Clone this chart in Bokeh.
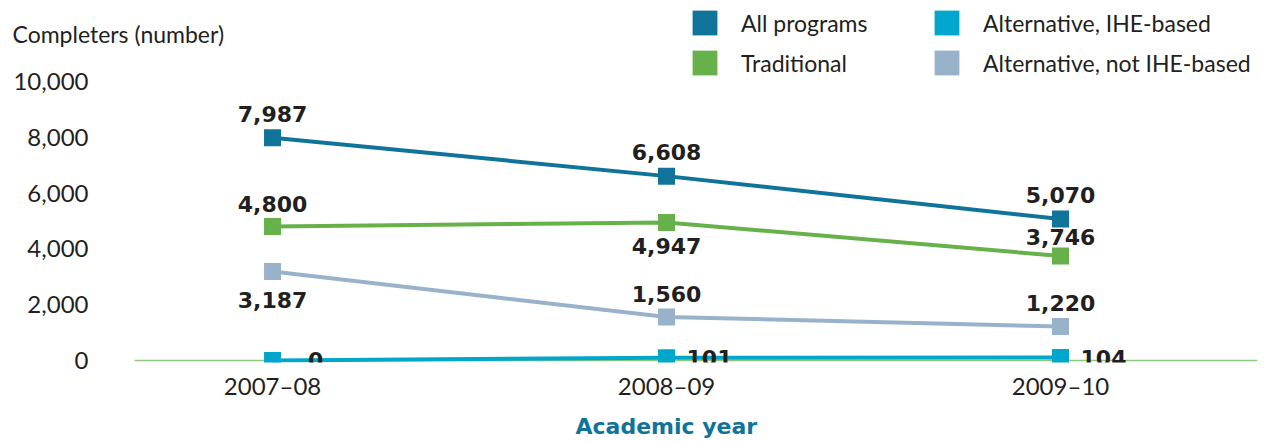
from bokeh.plotting import figure
from bokeh.models import (Range1d, FixedTicker, NumeralTickFormatter, Label, Title,
                          Legend, LegendItem, ColumnDataSource)
from bokeh.core.properties import value
from bokeh.embed import file_html
from bokeh.resources import INLINE

# ---- data ----
years = ["2007–08", "2008–09", "2009–10"]
all_programs = [7987, 6608, 5070]
traditional = [4800, 4947, 3746]
alt_ihe = [0, 101, 104]
alt_not_ihe = [3187, 1560, 1220]
y_ticks = [0, 2000, 4000, 6000, 8000, 10000]

# ---- style ----
FONT = "Lato"
BOLD_FONT = "DejaVu Sans"
TXT = "#231f20"
C_ALL = "#0f739a"
C_TRAD = "#67b14b"
C_IHE = "#00a6cc"
C_NOT = "#98b2ca"
C_BASE = "#8ec67c"

# view extents (data units)
X_START, X_END = -0.66, 2.5
Y_START, Y_END = -72, 12903
BASE_X0 = -0.35          # where the zero baseline begins

# label placement (screen px offsets): negative = above
off_all = [-24, -24, -24]
off_trad = [-23, 24, -19]
off_not = [28, -23, -23]

xs = list(range(len(years)))

p = figure(frame_width=1245, frame_height=362, output_backend="svg", toolbar_location=None,
           x_range=Range1d(X_START, X_END), y_range=Range1d(Y_START, Y_END),
           min_border_left=12, min_border_right=8, min_border_top=0, min_border_bottom=0)
p.outline_line_color = None
p.grid.visible = False
p.background_fill_color = "white"
p.border_fill_color = "white"

# axes
p.xaxis.ticker = FixedTicker(ticks=xs)
p.xaxis.major_label_overrides = {i: y for i, y in enumerate(years)}
p.xaxis.axis_line_color = None
p.xaxis.major_tick_line_color = None
p.xaxis.minor_tick_line_color = None
p.xaxis.major_label_standoff = 2
p.xaxis.major_label_text_font = FONT
p.xaxis.major_label_text_font_size = "24px"
p.xaxis.major_label_text_color = TXT

p.yaxis.ticker = FixedTicker(ticks=y_ticks)
p.yaxis.formatter = NumeralTickFormatter(format="0,0")
p.yaxis.axis_line_color = None
p.yaxis.major_tick_line_color = None
p.yaxis.minor_tick_line_color = None
p.yaxis.major_label_standoff = -82
p.yaxis.major_label_text_font = FONT
p.yaxis.major_label_text_font_size = "24px"
p.yaxis.major_label_text_color = TXT

p.add_layout(Title(text="Academic year", align="left", offset=563, standoff=18,
                   text_font=BOLD_FONT, text_font_size="22px", text_font_style="bold",
                   text_color=C_ALL), "below")

# zero baseline
p.segment(x0=[BASE_X0], x1=[X_END], y0=[0], y1=[0], line_color=C_BASE, line_width=1.5)

series = [
    ("All programs", all_programs, C_ALL),
    ("Traditional", traditional, C_TRAD),
    ("Alternative, not IHE-based", alt_not_ihe, C_NOT),
    ("Alternative, IHE-based", alt_ihe, C_IHE),
]
marks = {}
for name, vals, col in series:
    src = ColumnDataSource(dict(x=xs, y=vals))
    p.line("x", "y", source=src, line_color=col, line_width=4)
for name, vals, col in series:
    src = ColumnDataSource(dict(x=xs, y=vals))
    marks[name] = p.rect("x", "y", width=17, height=17, width_units="screen",
                         height_units="screen", source=src, fill_color=col, line_color=None)

def labels(vals, offs):
    src = ColumnDataSource(dict(x=xs, y=vals, t=[f"{v:,}" for v in vals], o=offs))
    p.text("x", "y", text="t", y_offset="o", source=src, text_font=value(BOLD_FONT),
           text_font_style="bold", text_font_size="22px", text_color=TXT,
           text_baseline="middle", text_align="center")

labels(all_programs, off_all)
labels(traditional, off_trad)
labels(alt_not_ihe, off_not)
src_ihe = ColumnDataSource(dict(x=xs, y=alt_ihe, t=[f"{v:,}" for v in alt_ihe]))
p.text("x", "y", text="t", x_offset=43, source=src_ihe, text_font=value(BOLD_FONT),
       text_font_style="bold", text_font_size="22px", text_color=TXT,
       text_baseline="middle", text_align="center")

# y axis title (horizontal, top-left)
p.add_layout(Label(x=X_START, y=11720, text="Completers (number)", text_font=FONT,
                   text_font_size="23px", text_color=TXT, text_baseline="middle",
                   text_align="left"))

def make_legend(items, loc):
    lg = Legend(items=[LegendItem(label=n, renderers=[marks[n]]) for n in items],
                location=loc, orientation="vertical", glyph_width=31, glyph_height=31,
                label_standoff=21, spacing=9, padding=0, margin=0,
                label_text_font=FONT, label_text_font_size="23px", label_text_color=TXT,
                border_line_color=None, background_fill_alpha=0)
    p.add_layout(lg, "center")

make_legend(["All programs", "Traditional"], (677, 284))
make_legend(["Alternative, IHE-based", "Alternative, not IHE-based"], (919, 284))

open("out.html", "w").write(file_html(p, INLINE))
